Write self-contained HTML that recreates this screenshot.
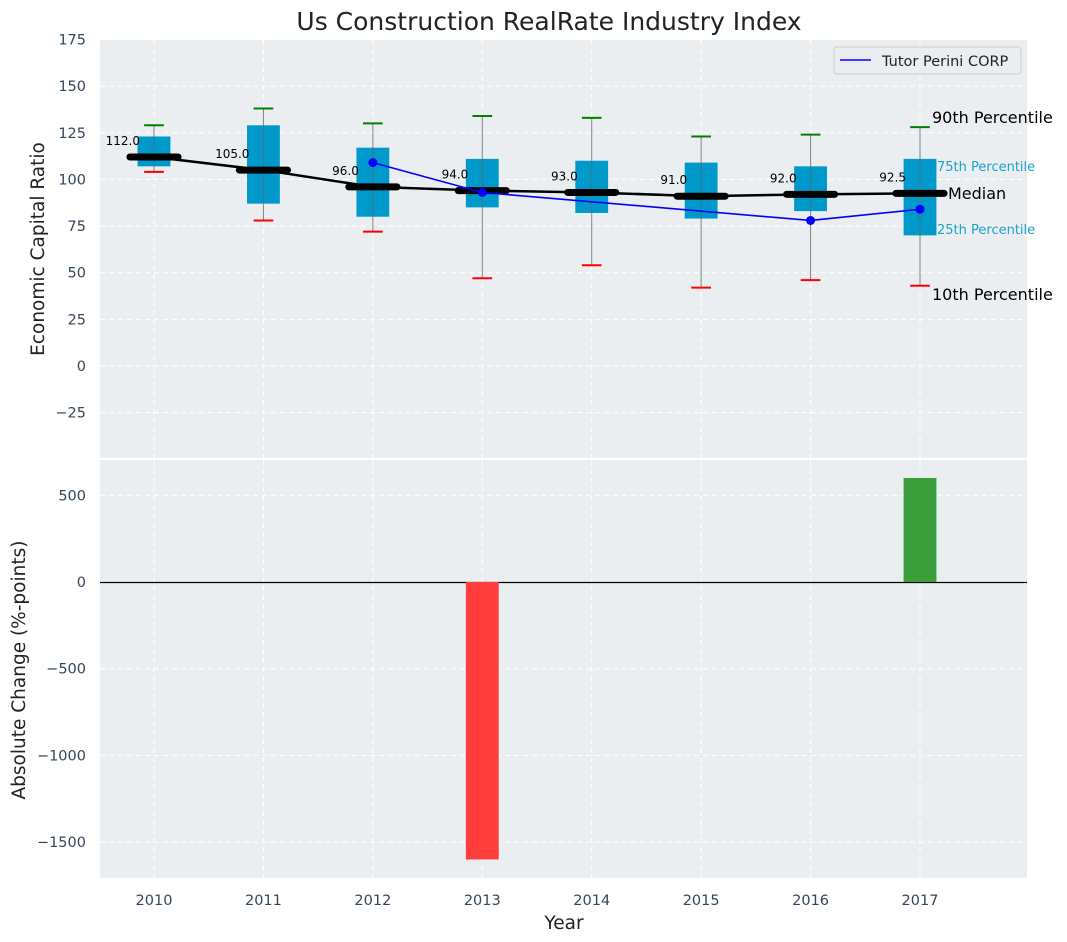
<!DOCTYPE html>
<html><head><meta charset="utf-8"><style>
body{margin:0;background:#fff;}
svg{display:block;font-family:"DejaVu Sans","Liberation Sans",sans-serif;}
</style></head><body>
<svg id="chart" width="1067" height="942" viewBox="0 0 1067 942" xmlns="http://www.w3.org/2000/svg"></svg>
<script>
const years = [2010,2011,2012,2013,2014,2015,2016,2017];
const p10 = [104,78,72,47,54,42,46,43];
const p25 = [107,87,80,85,82,79,83,70];
const medians = [112.0,105.0,96.0,94.0,93.0,91.0,92.0,92.5];
const p75 = [123,129,117,111,110,109,107,111];
const p90 = [129,138,130,134,133,123,124,128];
const companyYears = [2012,2013,2016,2017];
const companyValues = [109,93,78,84];
const changeYears = [2013,2017];
const changeValues = [-1600,600];
const topTicks = [-25,0,25,50,75,100,125,150,175];
const botTicks = [-1500,-1000,-500,0,500];

const svg = document.getElementById('chart');
const NS = 'http://www.w3.org/2000/svg';
function mk(tag, attrs, parent){const e=document.createElementNS(NS,tag);for(const k in attrs)e.setAttribute(k,attrs[k]);(parent||svg).appendChild(e);return e;}
const L=100,R=1027,T1=40,B1=458,T2=460,B2=878;
const x = v => 154 + (v-2010)*109.43;
const y1 = v => 366 - v*1.866;
const y2 = v => 582 - v*0.1734;
const pxPerYear = 109.43;

let t = mk('text',{x:549,y:30,'text-anchor':'middle','font-size':25,fill:'#222'});
t.textContent='Us Construction RealRate Industry Index';



let bg1 = mk('rect',{x:L,y:T1,width:R-L,height:B1-T1,fill:'#eaeef0'});


let bg2 = mk('rect',{x:L,y:T2,width:R-L,height:B2-T2,fill:'#eaeef0'});



years.forEach(yr=>{
  mk('line',{x1:x(yr),x2:x(yr),y1:T1,y2:B1,stroke:'#fff','stroke-dasharray':'5,4','stroke-width':1});
  mk('line',{x1:x(yr),x2:x(yr),y1:T2,y2:B2,stroke:'#fff','stroke-dasharray':'5,4','stroke-width':1});
  let tl = mk('text',{x:x(yr),y:905,'text-anchor':'middle','font-size':14.5,fill:'#33475b'});
  tl.textContent=yr;
  
  
});
topTicks.forEach(v=>{
  mk('line',{x1:L,x2:R,y1:y1(v),y2:y1(v),stroke:'#fff','stroke-dasharray':'5,4','stroke-width':1});
  let tl = mk('text',{x:86,y:y1(v)+5,'text-anchor':'end','font-size':14.5,fill:'#33475b'});
  tl.textContent = v<0 ? '\u2212'+Math.abs(v) : v;
  
  
});
botTicks.forEach(v=>{
  mk('line',{x1:L,x2:R,y1:y2(v),y2:y2(v),stroke:'#fff','stroke-dasharray':'5,4','stroke-width':1});
  let tl = mk('text',{x:86,y:y2(v)+5,'text-anchor':'end','font-size':14.5,fill:'#33475b'});
  tl.textContent = v<0 ? '\u2212'+Math.abs(v) : v;
  
  
});

let yt1 = mk('text',{x:44,y:249,'text-anchor':'middle','font-size':18.5,fill:'#222',transform:'rotate(-90 44 249)'});
yt1.textContent='Economic Capital Ratio';


let yt2 = mk('text',{x:25,y:670,'text-anchor':'middle','font-size':18.5,fill:'#222',transform:'rotate(-90 25 670)'});
yt2.textContent='Absolute Change (%-points)';


let xt = mk('text',{x:564,y:929,'text-anchor':'middle','font-size':18.5,fill:'#222'});
xt.textContent='Year';



const bw = 0.3*pxPerYear, cw = 0.18*pxPerYear, mw = 0.22*pxPerYear;
years.forEach((yr,i)=>{
  const cx = x(yr);
  let b = mk('rect',{x:cx-bw/2,y:y1(p75[i]),width:bw,height:y1(p25[i])-y1(p75[i]),fill:'#0099cc'});
  
  
  let w = mk('line',{x1:cx,x2:cx,y1:y1(p90[i]),y2:y1(p10[i]),stroke:'#666','stroke-width':1,'stroke-opacity':0.8});
  
  
  let ch = mk('line',{x1:cx-cw/2,x2:cx+cw/2,y1:y1(p90[i]),y2:y1(p90[i]),stroke:'green','stroke-width':2});
  
  
  let cl = mk('line',{x1:cx-cw/2,x2:cx+cw/2,y1:y1(p10[i]),y2:y1(p10[i]),stroke:'red','stroke-width':2});
  
  
});
let mpts = years.map((yr,i)=>x(yr)+','+y1(medians[i])).join(' ');
let ml = mk('polyline',{points:mpts,fill:'none',stroke:'#000','stroke-width':2.5});


years.forEach((yr,i)=>{
  const cx=x(yr), cy=y1(medians[i]);
  let m = mk('line',{x1:cx-mw,x2:cx+mw,y1:cy,y2:cy,stroke:'#000','stroke-width':7,'stroke-linecap':'round'});
  
  
  let lb = mk('text',{x:cx-14,y:cy-12,'text-anchor':'end','font-size':12,fill:'#000'});
  lb.textContent = medians[i].toFixed(1);
  
  
});
let cpts = companyYears.map((yr,i)=>x(yr)+','+y1(companyValues[i])).join(' ');
let cl = mk('polyline',{points:cpts,fill:'none',stroke:'#0000ff','stroke-width':1.6});


companyYears.forEach((yr,i)=>{
  let p = mk('circle',{cx:x(yr),cy:y1(companyValues[i]),r:4.5,fill:'#0000ff'});
  
  
});

const ann = [['90th Percentile',932,123,16,'#000'],['75th Percentile',937,171,13,'#1aa3cc'],['Median',948,199,16,'#000'],['25th Percentile',937,234,13,'#1aa3cc'],['10th Percentile',932,300,16,'#000']];
ann.forEach(a=>{
  let e = mk('text',{x:a[1],y:a[2],'font-size':a[3],fill:a[4]});
  e.textContent=a[0];
  
  
});

let lg = mk('g',{});


mk('rect',{x:834,y:47,width:187,height:27,rx:3,fill:'#eaeef0',stroke:'#ccc'},lg);
mk('line',{x1:840,x2:871,y1:60,y2:60,stroke:'#0000ff','stroke-width':1.6},lg);
let lt = mk('text',{x:882,y:66,'font-size':14.5,fill:'#222'},lg);
lt.textContent='Tutor Perini CORP';

let zl = mk('line',{x1:L,x2:R,y1:Math.round(y2(0))+0.5,y2:Math.round(y2(0))+0.5,stroke:'#000','stroke-width':1.2});


changeYears.forEach((yr,i)=>{
  const v=changeValues[i];
  let r = mk('rect',{x:x(yr)-bw/2,y:Math.min(y2(v),y2(0)),width:bw,height:Math.abs(y2(v)-y2(0)),fill:v<0?'#ff3d3d':'#3a9e3a'});
  
  
});
</script>
</body></html>
